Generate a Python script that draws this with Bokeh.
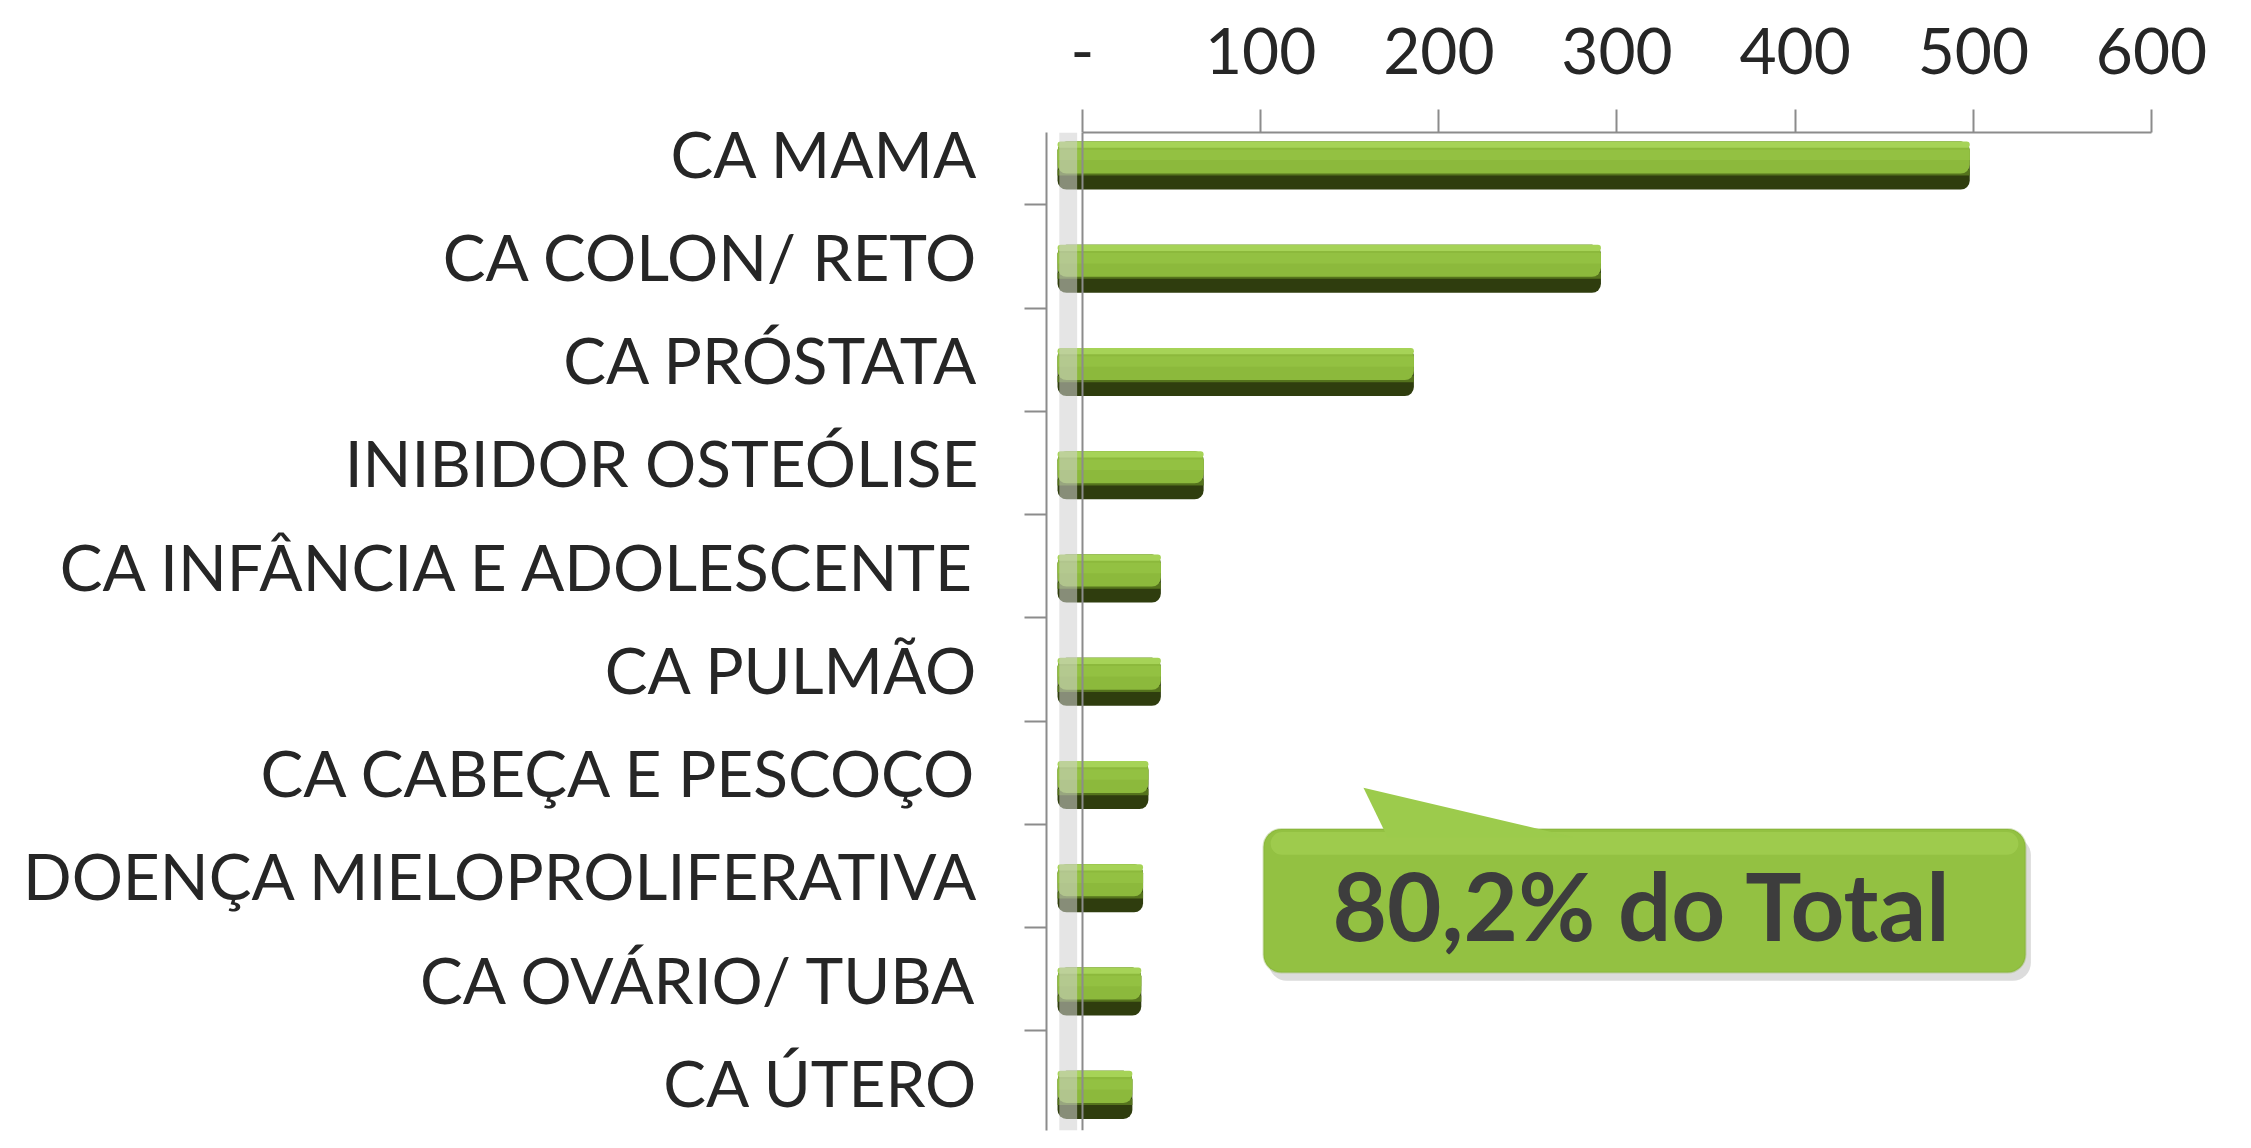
from bokeh.plotting import figure
from bokeh.models import (Range1d, FixedTicker, ColumnDataSource, BoxAnnotation,
                          PolyAnnotation, Label, Span)
from bokeh.transform import dodge
from bokeh.embed import file_html
from bokeh.resources import INLINE

# ---------------- data ----------------
categories = ["CA MAMA", "CA COLON/ RETO", "CA PRÓSTATA", "INIBIDOR OSTEÓLISE",
              "CA INFÂNCIA E ADOLESCENTE", "CA PULMÃO", "CA CABEÇA E PESCOÇO",
              "DOENÇA MIELOPROLIFERATIVA", "CA OVÁRIO/ TUBA", "CA ÚTERO"]
values = [512, 305, 200, 82, 58, 58, 51, 48, 47, 42]
x_ticks = [0, 100, 200, 300, 400, 500, 600]
x_tick_labels = ["-", "100", "200", "300", "400", "500", "600"]
callout_text = "80,2% do Total"

# ---------------- styles ----------------
FONT = "Lato"
AXIS_GRAY = "#8c8c8c"
TEXT_COL = "#262626"
DEPTH_X = -14      # 3D front-face shift (data units)
DEPTH_Y = 0.12
BAR_H = 0.465

pos = list(range(len(categories)))
src = ColumnDataSource(dict(pos=pos, value=values, zero=[0] * len(values)))

p = figure(width=2235, height=1132, output_backend="svg", toolbar_location=None,
           x_range=Range1d(-20.2, 600), y_range=Range1d(9.465, -0.2),
           x_axis_location="above",
           min_border_left=1046, min_border_right=84, min_border_top=132,
           min_border_bottom=2)
p.outline_line_color = None
p.xgrid.visible = False
p.ygrid.visible = False
p.background_fill_color = "white"
p.border_fill_color = "white"

# 3D wall hint
p.add_layout(BoxAnnotation(left=-13, right=-3, fill_color="#d0d0d0", fill_alpha=0.55,
                           line_alpha=0))
p.add_layout(Span(location=0, dimension="height", line_color=AXIS_GRAY, line_width=2))

# bars (layered to imitate the gradient); offsets relative to bar centre
def yl(off):
    return dodge("pos", DEPTH_Y + off)

lft = dodge("zero", DEPTH_X)
rgt = dodge("value", DEPTH_X)
top = -BAR_H / 2
p.hbar(y=yl(0.0), left=lft, right=rgt, height=BAR_H, source=src,
       fill_color="#2f3d0e", line_color=None, border_radius=9)
p.hbar(y=yl(top + 0.30), left=lft, right=rgt, height=0.06, source=src,
       fill_color="#55731d", line_color=None)
p.hbar(y=yl(top + 0.155), left=lft, right=rgt, height=0.31, source=src,
       fill_color="#8cb93c", line_color=None, border_radius=9)
p.hbar(y=yl(top + 0.13), left=lft, right=rgt, height=0.10, source=src,
       fill_color="#93c142", line_color=None, border_radius=0)
p.hbar(y=yl(top + 0.03), left=lft, right=rgt, height=0.06, source=src,
       fill_color="#a6d357", line_color=None, border_radius=7)

# axes
xa = p.xaxis[0]
xa.ticker = FixedTicker(ticks=x_ticks)
xa.major_label_overrides = dict(zip(x_ticks, x_tick_labels))
xa.bounds = (0, 600)
xa.axis_line_color = AXIS_GRAY
xa.axis_line_width = 2
xa.major_tick_line_color = AXIS_GRAY
xa.major_tick_line_width = 2
xa.major_tick_out = 23
xa.major_tick_in = 0
xa.minor_tick_line_color = None
xa.major_label_standoff = 36
xa.major_label_text_font = FONT
xa.major_label_text_font_size = "64px"
xa.major_label_text_color = TEXT_COL

ya = p.yaxis[0]
ya.ticker = FixedTicker(ticks=pos, minor_ticks=[i + 0.5 for i in pos])
ya.major_label_overrides = {i: c for i, c in enumerate(categories)}
ya.axis_line_color = AXIS_GRAY
ya.axis_line_width = 2
ya.major_tick_line_color = None
ya.major_tick_out = 0
ya.major_tick_in = 0
ya.minor_tick_line_color = AXIS_GRAY
ya.minor_tick_line_width = 2
ya.minor_tick_out = 22
ya.minor_tick_in = 0
ya.major_label_standoff = 46
ya.major_label_text_font = FONT
ya.major_label_text_font_size = "64px"
ya.major_label_text_color = TEXT_COL

# callout
C_L, C_R, C_T, C_B = 101.6, 529.3, 6.545, 7.935
p.add_layout(BoxAnnotation(left=C_L + 3, right=C_R + 3, top=C_T + 0.08, bottom=C_B + 0.08,
                           fill_color="#8a8a8a", fill_alpha=0.3, line_alpha=0,
                           border_radius=18))
p.add_layout(BoxAnnotation(left=C_L, right=C_R, top=C_T, bottom=C_B,
                           fill_color="#93c142", fill_alpha=1.0,
                           line_color="#7aa62f", line_width=2, border_radius=18))
p.add_layout(BoxAnnotation(left=C_L + 4, right=C_R - 4, top=C_T + 0.03, bottom=C_T + 0.25,
                           fill_color="#a2cf53", fill_alpha=0.7, line_alpha=0,
                           border_radius=14))
p.add_layout(PolyAnnotation(xs=[157.7, 171.2, 275.6], ys=[6.145, 6.625, 6.625],
                            fill_color="#9ccb4c", fill_alpha=1.0,
                            line_alpha=0))
p.add_layout(Label(x=314.3, y=7.275, text=callout_text, text_align="center",
                   text_baseline="middle", text_font=FONT, text_font_style="bold",
                   text_font_size="94px", text_color="#3d3d3d"))

open("out.html", "w").write(file_html(p, INLINE))
